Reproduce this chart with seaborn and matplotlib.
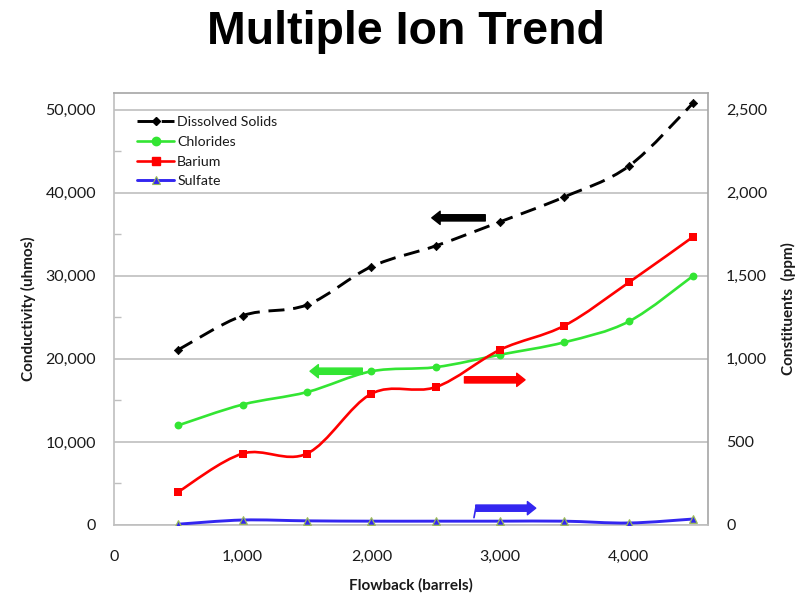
import numpy as np
import matplotlib
matplotlib.use("Agg")
import matplotlib.pyplot as plt
import seaborn as sns
from matplotlib.path import Path
from matplotlib.patches import PathPatch
from matplotlib.lines import Line2D
from matplotlib.ticker import MultipleLocator, FuncFormatter

# Flowback volume (barrels) at each sample
flowback = [500, 1000, 1500, 2000, 2500, 3000, 3500, 4000, 4500]
# Left axis: conductivity (uhmos)
dissolved_solids = [21100, 25200, 26500, 31100, 33600, 36500, 39500, 43200, 50800]
chlorides = [12000, 14500, 16000, 18500, 19000, 20500, 22000, 24500, 30000]
# Right axis: constituents (ppm)
barium = [200, 430, 430, 790, 830, 1055, 1200, 1460, 1735]
sulfate = [5, 30, 25, 23, 23, 23, 23, 12, 36]

x_ticks = [0, 1000, 2000, 3000, 4000]

sns.set_theme(style="white")
plt.rcParams["font.family"] = ["Lato", "DejaVu Sans"]

GRID = "#BFBFBF"
C_BLACK = "#000000"
C_GREEN = "#33E533"
C_RED = "#FF0000"
C_BLUE = "#3326F0"
TXT = "#1A1A1A"


def smooth_path(xs, ys):
    """Cubic Bezier path through the points (cardinal spline style)."""
    P = np.column_stack([xs, ys]).astype(float)
    n = len(P)
    verts = [P[0]]
    codes = [Path.MOVETO]
    for i in range(n - 1):
        p_prev = P[i - 1] if i > 0 else P[i]
        p_next = P[i + 2] if i + 2 < n else P[i + 1]
        c1 = P[i] + (P[i + 1] - p_prev) / 6.0
        c2 = P[i + 1] - (p_next - P[i]) / 6.0
        verts += [c1, c2, P[i + 1]]
        codes += [Path.CURVE4] * 3
    return Path(np.array(verts), codes)


fig = plt.figure(figsize=(8.03, 5.99), dpi=100)
ax = fig.add_axes([114 / 803, 1 - 525 / 599, 594 / 803, 432 / 599])
ax2 = ax.twinx()

ax.set_xlim(0, 4615)
ax.set_ylim(0, 52000)
ax2.set_ylim(0, 2600)

# smoothed lines
ax.add_patch(PathPatch(smooth_path(flowback, dissolved_solids), fill=False,
                       edgecolor=C_BLACK, lw=2.1, linestyle=(0, (5.5, 3.0)),
                       capstyle="butt", zorder=3))
ax.add_patch(PathPatch(smooth_path(flowback, chlorides), fill=False,
                       edgecolor=C_GREEN, lw=1.9, zorder=3))
ax2.add_patch(PathPatch(smooth_path(flowback, barium), fill=False,
                        edgecolor=C_RED, lw=1.9, zorder=3))
ax2.add_patch(PathPatch(smooth_path(flowback, sulfate), fill=False,
                        edgecolor=C_BLUE, lw=2.1, zorder=3))

# markers
sns.scatterplot(x=flowback, y=dissolved_solids, ax=ax, marker="D", s=18,
                color=C_BLACK, edgecolor=C_BLACK, linewidth=0.5, zorder=4)
sns.scatterplot(x=flowback, y=chlorides, ax=ax, marker="o", s=32,
                color=C_GREEN, edgecolor=C_GREEN, linewidth=0, zorder=4)
sns.scatterplot(x=flowback, y=barium, ax=ax2, marker="s", s=34,
                color=C_RED, edgecolor=C_RED, linewidth=0, zorder=4)
sns.scatterplot(x=flowback, y=sulfate, ax=ax2, marker="^", s=30,
                color=C_BLUE, edgecolor="#9BBB59", linewidth=0.9, zorder=4)

# axes styling
ax.yaxis.set_major_locator(MultipleLocator(10000))
ax.yaxis.set_minor_locator(MultipleLocator(5000))
ax2.yaxis.set_major_locator(MultipleLocator(500))
ax.set_xticks(x_ticks)
comma = FuncFormatter(lambda v, p: f"{v:,.0f}")
ax.yaxis.set_major_formatter(comma)
ax2.yaxis.set_major_formatter(comma)
ax.xaxis.set_major_formatter(comma)

ax.grid(axis="y", which="major", color=GRID, lw=1.2)
ax.grid(axis="x", visible=False)
ax2.grid(False)
for s in ax.spines.values():
    s.set_color(GRID)
    s.set_linewidth(1.2)
ax.spines["top"].set_color("#A6A6A6")
ax.spines["right"].set_color("#A6A6A6")
for s in ax2.spines.values():
    s.set_visible(False)

ax.tick_params(axis="y", which="major", direction="in", length=0, pad=13,
               labelsize=11.5, labelcolor=TXT)
ax.tick_params(axis="y", which="minor", direction="in", length=5, width=1,
               color=GRID, left=True)
ax.tick_params(axis="x", length=0, pad=18, labelsize=11.5, labelcolor=TXT)
ax2.tick_params(axis="y", length=0, pad=13, labelsize=11.5, labelcolor=TXT)

ax.set_xlabel("Flowback (barrels)", fontsize=11, fontweight="bold",
              labelpad=10, color=TXT)
ax.set_ylabel("Conductivity (uhmos)", fontsize=11, fontweight="bold",
              labelpad=7, color=TXT)
ax2.set_ylabel("Constituents  (ppm)", fontsize=11, fontweight="bold",
               labelpad=10, color=TXT)

fig.text(0.505, 1 - 44 / 599, "Multiple Ion Trend", ha="center", va="baseline",
         fontsize=33.5, fontweight="bold", color="black",
         family=["Liberation Sans", "DejaVu Sans"])

# direction arrows showing which axis each series uses
def axis_arrow(tail, tip, color):
    ax.annotate("", xy=tip, xytext=tail, xycoords="axes fraction",
                textcoords="axes fraction", zorder=5,
                arrowprops=dict(arrowstyle="simple,head_length=0.6,head_width=0.95,tail_width=0.45",
                                color=color, shrinkA=0, shrinkB=0, mutation_scale=10))

axis_arrow((0.625, 0.711), (0.535, 0.711), C_BLACK)
axis_arrow((0.418, 0.356), (0.330, 0.356), C_GREEN)
axis_arrow((0.590, 0.336), (0.692, 0.336), C_RED)
axis_arrow((0.609, 0.039), (0.710, 0.039), C_BLUE)
ax.plot([0.609, 0.606], [0.039, 0.017], transform=ax.transAxes, color=C_BLUE,
        lw=1.2, zorder=5)

# legend
handles = [
    Line2D([], [], color=C_BLACK, lw=2.1, dashes=(6.5, 1.8), marker="D",
           markersize=4.5, markevery=[1]),
    Line2D([], [], color=C_GREEN, lw=1.9, marker="o", markersize=6),
    Line2D([], [], color=C_RED, lw=1.9, marker="s", markersize=6),
    Line2D([], [], color=C_BLUE, lw=2.1, marker="^", markersize=5.5,
           markeredgecolor="#9BBB59", markeredgewidth=0.8),
]
labels = ["Dissolved Solids", "Chlorides", "Barium", "Sulfate"]
leg = ax.legend(handles, labels, loc="upper left", bbox_to_anchor=(0.03, 0.96),
                frameon=False, fontsize=10.2, handlelength=2.6, handletextpad=0.2,
                labelspacing=0.55, borderaxespad=0)
for t in leg.get_texts():
    t.set_color(TXT)

fig.savefig("out.png", dpi=100, facecolor="white")
